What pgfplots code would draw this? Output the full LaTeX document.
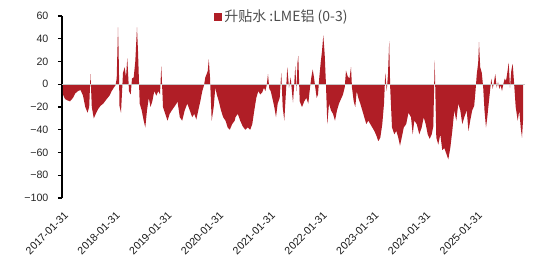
\documentclass[border=0pt]{standalone}
\usepackage{fontspec}
\setmainfont{Liberation Sans}
\newfontfamily\cjk{Noto Sans CJK SC}
\usepackage{pgfplots}
\usepackage{pgfplotstable}
\pgfplotsset{compat=1.18}
\definecolor{barred}{RGB}{176,30,38}
\definecolor{zeroline}{RGB}{200,200,200}
\pgfplotstableread{
x v
0 -9
2 -13
4 -14
7 -15
10 -12
12.3 -8
15 -6
17.5 -5
20 -10
22.3 -20
24.5 -25
26.2 -20
27.5 9
28.8 -20
30.8 -30
32.8 -26
35 -22
37.5 -19
40.3 -17
43.7 -13
46.5 -10
48.7 -6
50.8 -3
52.5 -1
53.7 5
55 50
55.6 30
56.5 -19
58 -25
60 10
61.7 15
63 6
64.3 23
66 -6
67.7 -9
69 5
70.7 6
72.3 20
73.3 38
74 50
75 29
76.7 -17
78.7 -23
80.7 -32
82.3 -38
84 -23
85.8 -12
87.5 -20
89.3 -15
91.3 -6
93.3 -10
95.3 -6
97 -9
98.3 16
100 -20
102.2 -26
104.5 -32
106.7 -26
108.8 -23
111.2 -20
113.5 -17
114.5 -15
116.8 -29
119.2 -32
121.7 -23
124.3 -17
126.8 -23
129.2 -29
131.3 -26
133.3 -31
135.3 -23
137.3 -15
139.3 -6
141 -1
142.3 6
143.7 9
144.8 12
145.8 22
147 6
148.7 -32
150.7 -20
152.3 -3
153.8 -9
155.8 -15
158 -23
160.2 -29
162.5 -32
164.7 -38
166.8 -40
169.2 -35
171.7 -32
172.5 -29
174.8 -26
177.2 -32
179.7 -37
182.3 -40
184.8 -38
187.2 -40
189.3 -35
191.3 -23
193.3 -12
195.3 -6
197.3 -9
199.3 -7
201 -3
202.3 -6
203.7 -1
205 9
206.3 -4
207.7 -6
209.3 -12
211.3 -20
213 -29
214.7 -17
216.7 -12
218.3 10
219.7 -20
221.3 -32
223 -6
224.3 15
226 -3
227.7 6
229 -7
230 -16
231 -3
232.3 16
233.5 -6
234.5 19
235.3 25
236.7 -15
239 -20
241.3 -15
243.3 -12
245.3 -17
247 -3
248.3 6
249.7 13
251 6
252.3 -3
253.7 -12
255 -9
256.3 6
257.7 19
259 29
260.3 43
261.7 26
263 -1
264.3 -35
266 -17
268 -23
270 -26
272 -32
274 -23
276 -17
278 -13
280 -9
281.7 -3
283 12
284.7 7
286.5 5
288 15
289 -3
290.7 -15
292.3 -20
293.7 -6
295.3 -12
297.3 -17
299.3 -23
301.3 -29
303.3 -35
305.3 -32
307.3 -35
309.3 -38
311.3 -41
313.3 -45
315.3 -50
317.3 -47
319.3 -35
321 -17
322.3 10
323.7 -6
325 9
326.2 38
327.2 -3
329 -38
331.3 -44
333.3 -41
335.3 -47
337 -54
338.7 -47
340.8 -38
343.2 -35
345.5 -25
348 -29
349.7 -44
351.3 -32
353.7 -35
356.3 -44
358.7 -38
360.7 -29
362.7 -35
364.7 -44
366.7 -48
368.7 -44
370.3 -37
371.7 21
373.3 -47
375.3 -53
377.3 -44
379.3 -58
381.3 -56
383.3 -61
385.3 -66
387.3 -56
389.3 -41
391.3 -23
393.3 -32
395.3 -17
397.3 -23
399.3 -35
401.3 -29
403.7 -23
405.5 -41
407.2 -32
409.2 -23
411.2 -19
412.5 -6
413.8 9
415.2 19
416 37
417.2 15
418.8 10
420.2 -3
421.5 -23
423 -38
424.3 -29
425.7 -17
427 -6
428.3 5
429.7 -4
431 2
432.3 9
433.7 -3
435 2
436.3 -4
437.7 -1
439 -6
440.3 0
441.7 5
443 3
444.3 10
445.7 19
447 -3
448.3 12
449.7 18
451 2
452.7 -20
454.7 -32
456.3 -23
457.7 -38
459 -47
460 -32
}\premium
\begin{document}
\begin{tikzpicture}
\useasboundingbox (-46.5pt,-43.5pt) rectangle (366pt,148.5pt);
\begin{axis}[
  at={(0pt,0pt)}, anchor=south west,
  scale only axis, width=347.25pt, height=136.5pt,
  xmin=-1, xmax=462, ymin=-100, ymax=60,
  axis x line*=bottom, axis y line*=left,
  x axis line style={draw=none},
  y axis line style={black, line width=0.8pt, -},
  ytick={-100,-80,-60,-40,-20,0,20,40,60},
  yticklabels={−100,−80,−60,−40,−20,0,20,40,60},
  xtick={0,51.75,103.5,155.25,207,258.75,310.5,362.25,414},
  xticklabels={2017-01-31,2018-01-31,2019-01-31,2020-01-31,2021-01-31,2022-01-31,2023-01-31,2024-01-31,2025-01-31},
  x tick style={draw=none},
  y tick style={black, line width=0.8pt},
  major tick length=3pt,
  tick align=outside,
  yticklabel style={font=\fontsize{8}{9}\selectfont, text=black!85, inner sep=0pt, xshift=-7pt},
  xticklabel style={rotate=45, anchor=north east, font=\fontsize{8}{9}\selectfont, text=black!90, inner sep=0pt, xshift=-4.5pt, yshift=-5pt},
  legend style={at={(0.475,0.995)}, anchor=center, draw=none, fill=none,
    font=\cjk\fontsize{10.5}{12}\selectfont, text=black!70},
  legend image code/.code={\fill[barred] (0pt,-3pt) rectangle (6pt,3pt);},
  clip=false,
]
\addplot[fill=barred, draw=none] table[x=x, y=v] {\premium} \closedcycle;
\addlegendentry{升贴水 :LME铝 (0-3)}
\addplot[forget plot, color=zeroline, line width=1pt] coordinates {(-1,0) (462,0)};
\end{axis}
\end{tikzpicture}
\end{document}
